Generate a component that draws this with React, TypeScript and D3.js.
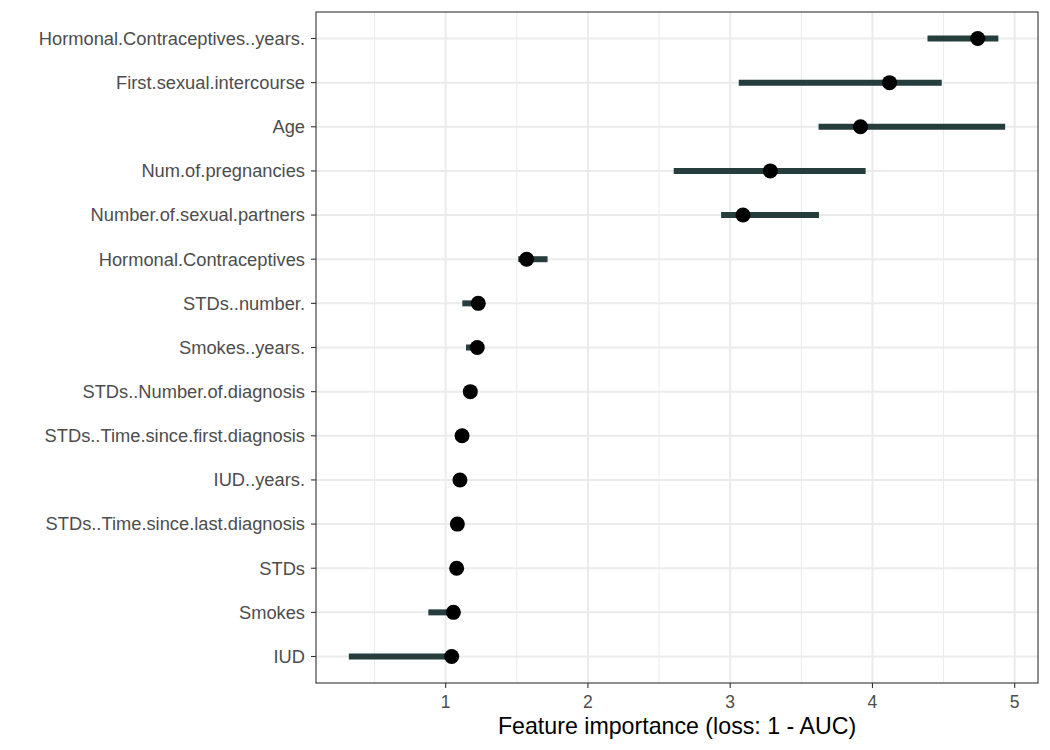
import React from "react";
import * as d3 from "d3";

const features = [
  "Hormonal.Contraceptives..years.",
  "First.sexual.intercourse",
  "Age",
  "Num.of.pregnancies",
  "Number.of.sexual.partners",
  "Hormonal.Contraceptives",
  "STDs..number.",
  "Smokes..years.",
  "STDs..Number.of.diagnosis",
  "STDs..Time.since.first.diagnosis",
  "IUD..years.",
  "STDs..Time.since.last.diagnosis",
  "STDs",
  "Smokes",
  "IUD",
];
const importance = [4.74, 4.12, 3.916, 3.282, 3.09, 1.569, 1.229, 1.222, 1.173, 1.115, 1.1, 1.082, 1.077, 1.054, 1.042];
const lower = [4.387, 3.06, 3.621, 2.603, 2.936, 1.51, 1.117, 1.143, 1.16, 1.105, 1.09, 1.07, 1.065, 0.878, 0.319];
const upper = [4.885, 4.487, 4.933, 3.952, 3.624, 1.716, 1.229, 1.222, 1.18, 1.12, 1.105, 1.09, 1.085, 1.054, 1.042];
const xTicks = [1, 2, 3, 4, 5];
const xMinor = [0.5, 1.5, 2.5, 3.5, 4.5];
const xTitle = "Feature importance (loss: 1 - AUC)";

export default function App() {
  const W = 1050, H = 750;
  const left = 316, right = 1038, top = 12, bottom = 683;
  const lo = d3.min(lower)!, hi = d3.max(upper)!;
  const pad = (hi - lo) * 0.05;
  const x = d3.scaleLinear().domain([lo - pad, hi + pad]).range([left, right]);
  const n = features.length;
  const step = (bottom - top) / (n - 1 + 1.2);
  const y = (i: number) => top + step * (0.6 + i);
  const barColor = "#253d3d";
  const font = "'Liberation Sans', Arial, sans-serif";
  return (
    <svg width={W} height={H} style={{ position: "absolute", left: 0, top: 0, background: "#fff" }} fontFamily={font}>
      <rect x={0} y={0} width={W} height={H} fill="#fff" />
      {xMinor.map((t) => (
        <line key={"mn" + t} x1={x(t)} x2={x(t)} y1={top} y2={bottom} stroke="#ebebeb" strokeWidth={1} />
      ))}
      {xTicks.map((t) => (
        <line key={"mj" + t} x1={x(t)} x2={x(t)} y1={top} y2={bottom} stroke="#ebebeb" strokeWidth={2} />
      ))}
      {features.map((f, i) => (
        <line key={"gy" + i} x1={left} x2={right} y1={y(i)} y2={y(i)} stroke="#ebebeb" strokeWidth={2} />
      ))}
      {features.map((f, i) => (
        <line key={"bar" + i} x1={x(lower[i])} x2={x(upper[i])} y1={y(i)} y2={y(i)} stroke={barColor} strokeWidth={6} />
      ))}
      {features.map((f, i) => (
        <circle key={"pt" + i} cx={x(importance[i])} cy={y(i)} r={7.5} fill="#000" />
      ))}
      <rect x={left} y={top} width={right - left} height={bottom - top} fill="none" stroke="#333" strokeWidth={1.1} />
      {features.map((f, i) => (
        <g key={"yl" + i}>
          <line x1={left - 5} x2={left} y1={y(i)} y2={y(i)} stroke="#333" strokeWidth={1.1} />
          <text x={left - 11} y={y(i)} dy="0.35em" textAnchor="end" fontSize={18.3} fill="#4d4d4d">{f}</text>
        </g>
      ))}
      {xTicks.map((t) => (
        <g key={"xt" + t}>
          <line x1={x(t)} x2={x(t)} y1={bottom} y2={bottom + 5} stroke="#333" strokeWidth={1.1} />
          <text x={x(t)} y={707.5} textAnchor="middle" fontSize={17.5} fill="#4d4d4d">{t}</text>
        </g>
      ))}
      <text x={(left + right) / 2} y={734} textAnchor="middle" fontSize={23.2} fill="#000">{xTitle}</text>
    </svg>
  );
}
